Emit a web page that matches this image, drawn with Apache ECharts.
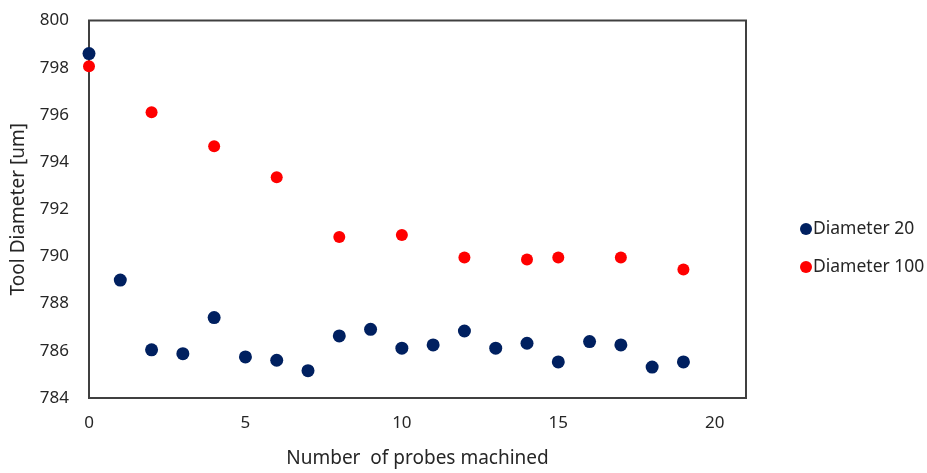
<!DOCTYPE html>
<html>
<head>
<meta charset="utf-8">
<script src="https://cdn.jsdelivr.net/npm/echarts@6/dist/echarts.min.js"></script>
<style>
html,body{margin:0;padding:0;background:#fff;}
#chart{width:927px;height:473px;}
</style>
</head>
<body>
<div id="chart"></div>
<script>
// Data
const d20X = [0,1,2,3,4,5,6,7,8,9,10,11,12,13,14,15,16,17,18,19];
const d20Y = [798.6,789.0,786.04,785.88,787.41,785.74,785.6,785.16,786.63,786.91,786.11,786.25,786.84,786.11,786.32,785.53,786.39,786.25,785.31,785.53];
const d100X = [0,2,4,6,8,10,12,14,15,17,19];
const d100Y = [798.06,796.11,794.67,793.36,790.82,790.91,789.95,789.87,789.95,789.95,789.45];
const seriesNames = ['Diameter 20','Diameter 100'];
const xTitle = 'Number  of probes machined';
const yTitle = 'Tool Diameter [um]';

const font = '"Noto Sans", "Open Sans", sans-serif';
const txt = '#262626';

const chart = echarts.init(document.getElementById('chart'), null, {renderer:'canvas'});
chart.setOption({
  animation:false,
  backgroundColor:'#fff',
  textStyle:{fontFamily:font},
  grid:{left:89,top:20.5,right:181,bottom:70,show:true,borderColor:'#404040',borderWidth:2,backgroundColor:'transparent'},
  legend:{
    orient:'vertical',left:795,top:215,itemGap:20,itemWidth:12,itemHeight:12,
    icon:'circle',
    textStyle:{fontFamily:font,fontSize:17.5,color:txt,padding:[0,0,0,-4]},
    data:seriesNames
  },
  xAxis:{
    type:'value',min:0,max:21,interval:5,
    axisLine:{show:false},axisTick:{show:false},splitLine:{show:false},
    axisLabel:{fontFamily:font,fontSize:17,color:txt,margin:17,showMaxLabel:false},
    name:xTitle,nameLocation:'middle',nameGap:51,
    nameTextStyle:{fontFamily:font,fontSize:19,color:txt}
  },
  yAxis:{
    type:'value',min:784,max:800,interval:2,
    axisLine:{show:false},axisTick:{show:false},splitLine:{show:false},
    axisLabel:{fontFamily:font,fontSize:17,color:txt,margin:20},
    name:yTitle,nameLocation:'middle',nameGap:61,
    nameTextStyle:{fontFamily:font,fontSize:19,color:txt}
  },
  series:[
    {name:seriesNames[0],type:'scatter',symbol:'circle',symbolSize:13,
     itemStyle:{color:'#002060',opacity:1},
     data:d20X.map((x,i)=>[x,d20Y[i]])},
    {name:seriesNames[1],type:'scatter',symbol:'circle',symbolSize:12,
     itemStyle:{color:'#FF0000',opacity:1},
     data:d100X.map((x,i)=>[x,d100Y[i]])}
  ]
});
</script>
</body>
</html>
